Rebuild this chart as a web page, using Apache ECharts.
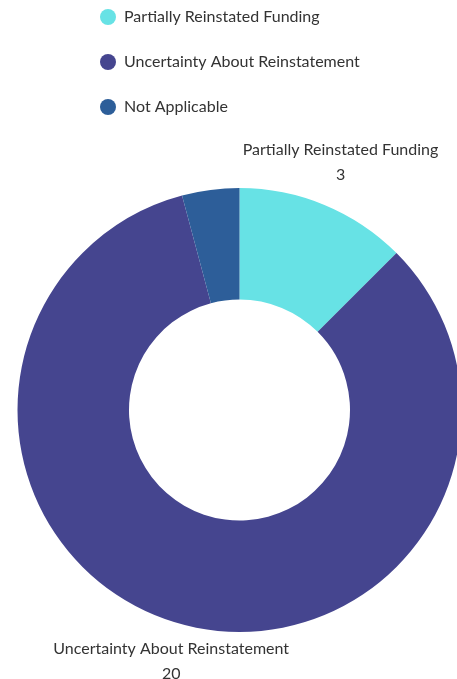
<!DOCTYPE html>
<html>
<head>
<meta charset="utf-8">
<script src="https://cdn.jsdelivr.net/npm/echarts@6/dist/echarts.min.js"></script>
<style>html,body{margin:0;padding:0;background:#fff}#c{width:457px;height:679px}</style>
</head>
<body>
<div id="c"></div>
<script>
var categories = ['Partially Reinstated Funding', 'Uncertainty About Reinstatement', 'Not Applicable'];
var values = [3, 20, 1];
var showLabel = [true, true, false];
var colors = ['#67E2E5', '#45458F', '#2D5E99'];

var CX = 239.5, CY = 410, R_IN = 110.5, R_OUT = 222, R_LABEL = 264;
var total = values.reduce(function (a, b) { return a + b; }, 0);

var chart = echarts.init(document.getElementById('c'));
var data = categories.map(function (n, i) {
  return { name: n, value: values[i], label: { show: showLabel[i] }, itemStyle: { color: colors[i] } };
});
chart.setOption({
  animation: false,
  textStyle: { fontFamily: 'Lato' },
  legend: {
    orient: 'vertical',
    left: 100,
    top: 9,
    padding: 0,
    icon: 'circle',
    itemWidth: 16,
    itemHeight: 16,
    itemGap: 29,
    textStyle: { fontSize: 16, color: '#333', fontFamily: 'Lato', padding: [0, 0, 0, 3] },
    data: categories
  },
  series: [{
    type: 'pie',
    center: [CX, CY],
    radius: [R_IN, R_OUT],
    startAngle: 90,
    clockwise: true,
    data: data,
    label: {
      show: true,
      position: 'outside',
      formatter: '{b}\n{c}',
      fontSize: 16,
      lineHeight: 25,
      color: '#333',
      fontFamily: 'Lato',
      overflow: 'none',
      align: 'center'
    },
    labelLine: { show: false, length: 40, length2: 0 },
    labelLayout: function (p) {
      var before = 0;
      for (var i = 0; i < p.dataIndex; i++) before += values[i];
      var mid = (before + values[p.dataIndex] / 2) / total * Math.PI * 2;
      return {
        x: CX + R_LABEL * Math.sin(mid),
        y: CY - R_LABEL * Math.cos(mid) - 4,
        align: 'center',
        verticalAlign: 'middle'
      };
    },
    emphasis: { disabled: true }
  }]
});
</script>
</body>
</html>
